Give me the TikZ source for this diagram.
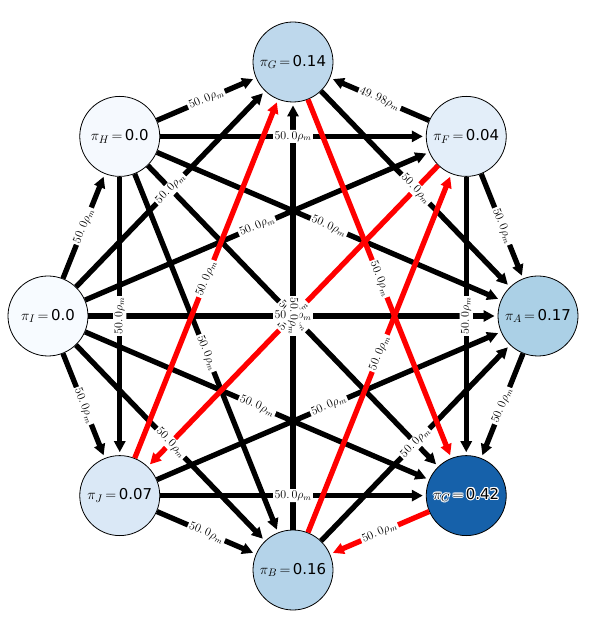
\documentclass[tikz,border=0pt]{standalone}
\usepackage{amsmath, amssymb}
\usepackage{fontspec}
\newfontfamily\dejavu{DejaVu Sans}
\usepackage{contour}
\contourlength{1.1bp}
\contournumber{12}
\usepackage{xcolor}
\usetikzlibrary{arrows.meta}

\definecolor{pI}{HTML}{F7FBFF}
\definecolor{pH}{HTML}{F5F9FE}
\definecolor{pF}{HTML}{E3EEF9}
\definecolor{pJ}{HTML}{DAE8F6}
\definecolor{pG}{HTML}{BED8EC}
\definecolor{pB}{HTML}{B4D3E9}
\definecolor{pA}{HTML}{ABD0E6}
\definecolor{pC}{HTML}{1661AA}

\tikzset{
  prob/.style={circle, draw, line width=0.8bp, minimum size=80bp, inner sep=0pt,
    font=\fontsize{15}{17}\selectfont},
  flow/.style={line width=5.3bp, -{Triangle[length=11bp,width=11bp]}, shorten >=3bp},
  lbl/.style={fill=white, rounded corners=2bp, inner sep=1.5bp,
    font=\fontsize{11.5}{13}\selectfont, midway},
  rate/.style={lbl, sloped},
}
\newcommand{\rateval}{$50.\,0\rho_m$}
\newcommand{\plab}[2]{$\pi_{#1}\,{=}\,${\dejavu #2}}

\begin{document}
\begin{tikzpicture}[x=1bp, y=1bp]
  \useasboundingbox (-293,-315) rectangle (305,316);

  \node[prob, fill=pG] (G) at (90:245 and 254) {\plab{G}{0.14}};
  \node[prob, fill=pF] (F) at (45:245 and 254) {\plab{F}{0.04}};
  \node[prob, fill=pA] (A) at (0:245 and 254) {\plab{A}{0.17}};
  \node[prob, fill=pC] (C) at (-45:245 and 254) {\contour{white}{\plab{C}{0.42}}};
  \node[prob, fill=pB] (B) at (-90:245 and 254) {\plab{B}{0.16}};
  \node[prob, fill=pJ] (J) at (-135:245 and 254) {\plab{J}{0.07}};
  \node[prob, fill=pI] (I) at (180:245 and 254) {\plab{I}{0.0}};
  \node[prob, fill=pH] (H) at (135:245 and 254) {\plab{H}{0.0}};

  % black arrows
  \path[flow]
  (H) edge (G)
  (H) edge (F)
  (H) edge (A)
  (H) edge (C)
  (H) edge (B)
  (H) edge (J)
  (I) edge (H)
  (I) edge (G)
  (I) edge (F)
  (I) edge (A)
  (I) edge (C)
  (I) edge (B)
  (I) edge (J)
  (F) edge (G)
  (F) edge (A)
  (F) edge (C)
  (G) edge (A)
  (B) edge (G)
  (J) edge (A)
  (B) edge (A)
  (A) edge (C)
  (J) edge (C)
  (J) edge (B);

  % red cycle
  \path[flow, red]
  (G) edge (C)
  (C) edge (B)
  (B) edge (F)
  (F) edge (J)
  (J) edge (G);

  % rates
  \path
  (H) -- node[rate] {\rateval} (G)
  (H) -- node[rate] {\rateval} (F)
  (H) -- node[rate] {\rateval} (A)
  (H) -- node[rate] {\rateval} (B)
  (H) -- node[lbl, rotate=90] {\rateval} (J)
  (I) -- node[rate] {\rateval} (H)
  (I) -- node[rate] {\rateval} (G)
  (I) -- node[rate] {\rateval} (F)
  (I) -- node[rate] {\rateval} (C)
  (I) -- node[rate] {\rateval} (B)
  (I) -- node[rate] {\rateval} (J)
  (F) -- node[rate] {$49.\,98\rho_m$} (G)
  (F) -- node[rate] {\rateval} (A)
  (F) -- node[lbl, rotate=90] {\rateval} (C)
  (G) -- node[rate] {\rateval} (A)
  (J) -- node[rate] {\rateval} (A)
  (B) -- node[rate] {\rateval} (A)
  (A) -- node[rate] {\rateval} (C)
  (J) -- node[rate] {\rateval} (C)
  (J) -- node[rate] {\rateval} (B)
  (G) -- node[rate] {\rateval} (C)
  (C) -- node[rate] {\rateval} (B)
  (B) -- node[rate] {\rateval} (F)
  (J) -- node[rate] {\rateval} (G)
  (H) -- node[rate] {\rateval} (C)
  (F) -- node[rate] {\rateval} (J)
  (I) -- node[rate] {\rateval} (A)
  (B) -- node[lbl, rotate=-90] {\rateval} (G);
\end{tikzpicture}
\end{document}
